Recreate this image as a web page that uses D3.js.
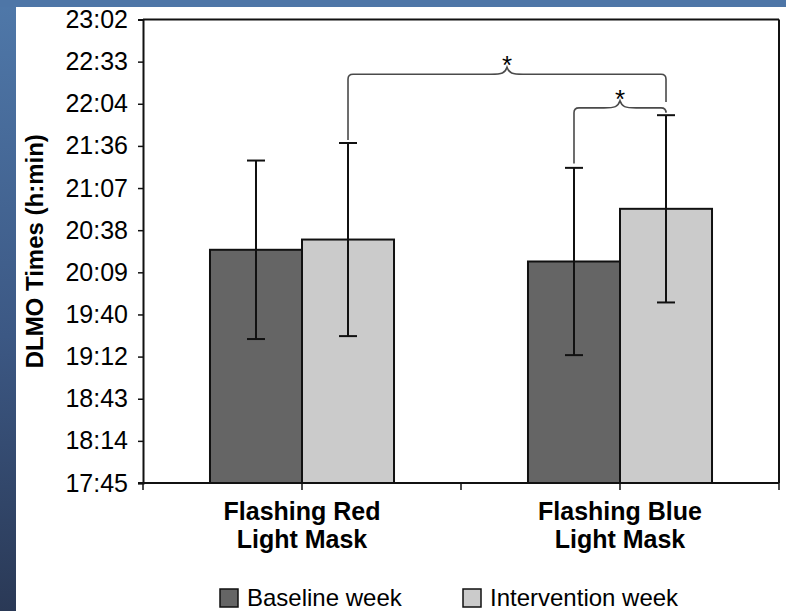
<!DOCTYPE html>
<html>
<head>
<meta charset="utf-8">
<script src="https://cdn.jsdelivr.net/npm/d3@7"></script>
<style>
  html, body { margin: 0; padding: 0; background: #ffffff; }
  svg { display: block; }
  text { font-family: "Liberation Sans", Arial, sans-serif; fill: #000; }
</style>
</head>
<body>
<svg id="chart" width="786" height="611"></svg>
<script>
// DLMO onset times (minutes after midnight) per mask condition and study week
const categories = ["Flashing Red Light Mask", "Flashing Blue Light Mask"];
const categoryLines = [["Flashing Red", "Light Mask"], ["Flashing Blue", "Light Mask"]];
const seriesNames = ["Baseline week", "Intervention week"];
const seriesColors = ["#656565", "#cbcbcb"];
const baselineMeans = [1225, 1217];
const interventionMeans = [1232, 1253];
const baselineErrors = [61, 64];
const interventionErrors = [66, 64];

// y axis: 0.74 to 0.96 of a day in 0.02-day steps, shown as h:min
const yTickValues = [1065.6, 1094.4, 1123.2, 1152.0, 1180.8, 1209.6, 1238.4, 1267.2, 1296.0, 1324.8, 1353.6, 1382.4];
const yTickLabels = ["17:45", "18:14", "18:43", "19:12", "19:40", "20:09", "20:38", "21:07", "21:36", "22:04", "22:33", "23:02"];

// significance braces: [category, series] at each end, brace level and leg ends in minutes
const comparisons = [
  { left: [0, 1], right: [1, 1], level: 1345, leftEnd: 1300, rightEnd: 1326 },
  { left: [1, 0], right: [1, 1], level: 1322, leftEnd: 1284, rightEnd: 1320 }
];

const W = 786, H = 611;
const margin = { top: 19.5, right: 7, bottom: 128, left: 143 };
const svg = d3.select("#chart");

// backdrop: blue strip on top and gradient strip at the left edge
const defs = svg.append("defs");
const grad = defs.append("linearGradient").attr("id", "sideGrad")
  .attr("x1", 0).attr("y1", 0).attr("x2", 0).attr("y2", 1);
grad.append("stop").attr("offset", "0%").attr("stop-color", "#4f78a9");
grad.append("stop").attr("offset", "55%").attr("stop-color", "#3c5884");
grad.append("stop").attr("offset", "100%").attr("stop-color", "#2a3956");
svg.append("rect").attr("x", 0).attr("y", 0).attr("width", 16).attr("height", H).attr("fill", "url(#sideGrad)");
svg.append("rect").attr("x", 0).attr("y", 0).attr("width", W).attr("height", 7).attr("fill", "#4e76a7");

const x0 = d3.scaleBand().domain(categories).range([margin.left, W - margin.right]).paddingInner(0).paddingOuter(0);
const x1 = d3.scaleBand().domain(seriesNames).range([0, x0.bandwidth()]).paddingInner(0).paddingOuter(0.728);
const y = d3.scaleLinear().domain([yTickValues[0], yTickValues[yTickValues.length - 1]]).range([H - margin.bottom, margin.top]);

const rows = categories.map((c, i) => ({
  category: c,
  values: [
    { series: seriesNames[0], mean: baselineMeans[i], err: baselineErrors[i], color: seriesColors[0] },
    { series: seriesNames[1], mean: interventionMeans[i], err: interventionErrors[i], color: seriesColors[1] }
  ]
}));

// bars
const groups = svg.append("g").selectAll("g").data(rows).join("g")
  .attr("transform", d => `translate(${x0(d.category)},0)`);
groups.selectAll("rect").data(d => d.values).join("rect")
  .attr("x", d => x1(d.series))
  .attr("y", d => y(d.mean))
  .attr("width", x1.bandwidth())
  .attr("height", d => y(yTickValues[0]) - y(d.mean))
  .attr("fill", d => d.color)
  .attr("stroke", "#111")
  .attr("stroke-width", 2);

// error bars
const capHalf = 9;
const eb = groups.selectAll("g.err").data(d => d.values).join("g").attr("class", "err")
  .attr("transform", d => `translate(${x1(d.series) + x1.bandwidth() / 2},0)`);
eb.append("line").attr("x1", 0).attr("x2", 0)
  .attr("y1", d => y(d.mean + d.err)).attr("y2", d => y(d.mean - d.err))
  .attr("stroke", "#111").attr("stroke-width", 2);
eb.append("line").attr("x1", -capHalf).attr("x2", capHalf)
  .attr("y1", d => y(d.mean + d.err)).attr("y2", d => y(d.mean + d.err))
  .attr("stroke", "#111").attr("stroke-width", 2);
eb.append("line").attr("x1", -capHalf).attr("x2", capHalf)
  .attr("y1", d => y(d.mean - d.err)).attr("y2", d => y(d.mean - d.err))
  .attr("stroke", "#111").attr("stroke-width", 2);

// frame: top and right borders
const plotRight = W - margin.right;
svg.append("line").attr("x1", margin.left).attr("x2", plotRight).attr("y1", margin.top).attr("y2", margin.top)
  .attr("stroke", "#111").attr("stroke-width", 2);
svg.append("line").attr("x1", plotRight).attr("x2", plotRight).attr("y1", margin.top).attr("y2", y(yTickValues[0]))
  .attr("stroke", "#111").attr("stroke-width", 2);

// y axis
const yAxis = svg.append("g").attr("transform", `translate(${margin.left},0)`)
  .call(d3.axisLeft(y).tickValues(yTickValues).tickFormat((d, i) => yTickLabels[i]).tickSize(5).tickPadding(10));
yAxis.select(".domain").attr("stroke", "#111").attr("stroke-width", 2);
yAxis.selectAll(".tick line").attr("stroke", "#111").attr("stroke-width", 1.5);
yAxis.selectAll(".tick text").attr("font-size", 25).attr("fill", "#111")
  .style("font-family", "'Liberation Sans', Arial, sans-serif");

// x axis: ticks at category edges and centres
const xTicks = [];
categories.forEach(c => {
  xTicks.push(x0(c));
  xTicks.push(x0(c) + x0.bandwidth() / 2);
});
xTicks.push(plotRight);
const baseY = y(yTickValues[0]);
svg.append("line").attr("x1", margin.left - 5).attr("x2", plotRight).attr("y1", baseY).attr("y2", baseY)
  .attr("stroke", "#111").attr("stroke-width", 2);
svg.append("g").selectAll("line").data(xTicks).join("line")
  .attr("x1", d => d).attr("x2", d => d).attr("y1", baseY).attr("y2", baseY + 7)
  .attr("stroke", "#111").attr("stroke-width", 1.5);

// category labels
svg.append("g").selectAll("text").data(categories).join("text")
  .attr("x", d => x0(d) + x0.bandwidth() / 2)
  .attr("y", 519.5)
  .attr("text-anchor", "middle")
  .attr("font-size", 25)
  .attr("font-weight", "bold")
  .each(function (d, i) {
    d3.select(this).selectAll("tspan").data(categoryLines[i]).join("tspan")
      .attr("x", x0(d) + x0.bandwidth() / 2)
      .attr("dy", (t, j) => j === 0 ? 0 : 28.5)
      .text(t => t);
  });

// y axis title
svg.append("text")
  .attr("transform", `translate(43,${(margin.top + baseY) / 2}) rotate(-90)`)
  .attr("text-anchor", "middle")
  .attr("font-size", 24)
  .attr("font-weight", "bold")
  .text("DLMO Times (h:min)");

// significance braces
const xOf = ([ci, si]) => x0(categories[ci]) + x1(seriesNames[si]) + x1.bandwidth() / 2;
const braces = svg.append("g");
comparisons.forEach(c => {
  const xl = xOf(c.left), xr = xOf(c.right);
  const yb = y(c.level), xm = (xl + xr) / 2;
  const r = 5, h = 7, w = 16;
  const p = d3.path();
  p.moveTo(xl, y(c.leftEnd));
  p.lineTo(xl, yb + r);
  p.quadraticCurveTo(xl, yb, xl + r, yb);
  p.lineTo(xm - w, yb);
  p.bezierCurveTo(xm - 5, yb, xm - 2, yb - 1, xm, yb - h);
  p.bezierCurveTo(xm + 2, yb - 1, xm + 5, yb, xm + w, yb);
  p.lineTo(xr - r, yb);
  p.quadraticCurveTo(xr, yb, xr, yb + r);
  p.lineTo(xr, y(c.rightEnd));
  braces.append("path").attr("d", p.toString())
    .attr("fill", "none").attr("stroke", "#4a4a4a").attr("stroke-width", 1.6);
  braces.append("text")
    .attr("x", xm).attr("y", yb)
    .attr("text-anchor", "middle")
    .attr("font-size", 26)
    .text("*");
});

// legend
const legendX = [220, 463];
const leg = svg.append("g").selectAll("g").data(seriesNames).join("g")
  .attr("transform", (d, i) => `translate(${legendX[i]},589)`);
leg.append("rect").attr("width", 18).attr("height", 18)
  .attr("fill", (d, i) => seriesColors[i]).attr("stroke", "#111").attr("stroke-width", 1.5);
leg.append("text").attr("x", 27).attr("y", 16.5).attr("font-size", 24).attr("fill", "#111").text(d => d);
</script>
</body>
</html>
